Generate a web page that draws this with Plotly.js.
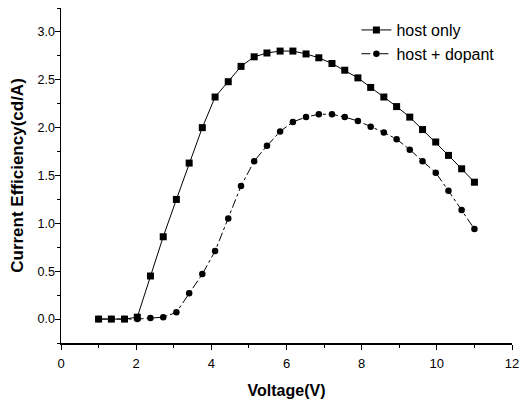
<!DOCTYPE html>
<html>
<head>
<meta charset="utf-8">
<script src="https://cdn.plot.ly/plotly-3.0.1.min.js"></script>
<style>html,body{margin:0;padding:0;background:#fff;}#chart{width:521px;height:403px;}</style>
</head>
<body>
<div id="chart"></div>
<script>
var voltage = [1.0, 1.34, 1.69, 2.03, 2.38, 2.72, 3.07, 3.41, 3.76, 4.10, 4.45, 4.79, 5.14, 5.48, 5.83, 6.17, 6.52, 6.86, 7.21, 7.55, 7.90, 8.24, 8.59, 8.93, 9.28, 9.62, 9.97, 10.31, 10.66, 11.0];
var hostOnly = [0, 0, 0, 0.02, 0.45, 0.86, 1.25, 1.63, 2.00, 2.32, 2.48, 2.64, 2.74, 2.78, 2.80, 2.80, 2.77, 2.73, 2.67, 2.60, 2.52, 2.42, 2.32, 2.22, 2.11, 1.98, 1.85, 1.71, 1.57, 1.43];
var hostDopant = [0, 0, 0, 0, 0.01, 0.02, 0.07, 0.27, 0.47, 0.71, 1.05, 1.39, 1.65, 1.81, 1.96, 2.06, 2.11, 2.14, 2.14, 2.11, 2.07, 2.01, 1.95, 1.88, 1.77, 1.65, 1.53, 1.34, 1.14, 0.94];
var seriesNames = ["host only", "host + dopant"];
var xTicks = [0, 2, 4, 6, 8, 10, 12];
var yTicks = [0.0, 0.5, 1.0, 1.5, 2.0, 2.5, 3.0];

var traces = [
  {x: voltage, y: hostOnly, name: seriesNames[0], type: 'scatter', mode: 'lines+markers',
   line: {color: '#000', width: 1}, marker: {symbol: 'square', size: 7, color: '#000'}},
  {x: voltage, y: hostDopant, name: seriesNames[1], type: 'scatter', mode: 'lines+markers',
   line: {color: '#000', width: 1, dash: 'dashdot'}, marker: {symbol: 'circle', size: 6.5, color: '#000'}}
];

var layout = {
  width: 521, height: 403,
  margin: {l: 61, r: 9, t: 8, b: 60},
  paper_bgcolor: '#fff', plot_bgcolor: '#fff',
  font: {family: 'Liberation Sans, Arial, sans-serif', color: '#000', size: 12},
  showlegend: true,
  legend: {x: 0.655, y: 0.985, xanchor: 'left', yanchor: 'top', bgcolor: 'rgba(0,0,0,0)',
           font: {size: 16, family: 'Liberation Sans, Arial, sans-serif', color: '#000'}, tracegroupgap: 0,
           itemwidth: 30},
  xaxis: {
    range: [0, 12], tickvals: xTicks, ticktext: xTicks.map(String),
    showgrid: false, zeroline: false, showline: true, linecolor: '#000', linewidth: 1.5,
    ticks: 'outside', ticklen: 5, tickwidth: 1, tickcolor: '#000',
    minor: {dtick: 1, ticks: 'outside', ticklen: 3, tickcolor: '#000', showgrid: false},
    tickfont: {size: 13}, ticklabelstandoff: 3,
    title: {text: '<b>Voltage(V)</b>', font: {size: 16}, standoff: 14}
  },
  yaxis: {
    range: [-0.25, 3.25], tickvals: yTicks, ticktext: yTicks.map(function(v){return v.toFixed(1);}),
    showgrid: false, zeroline: false, showline: true, linecolor: '#000', linewidth: 1.5,
    ticks: 'outside', ticklen: 5, tickwidth: 1, tickcolor: '#000',
    minor: {dtick: 0.25, ticks: 'outside', ticklen: 3, tickcolor: '#000', showgrid: false},
    tickfont: {size: 12.5}, ticklabelstandoff: -3,
    title: {text: '<b>Current Efficiency(cd/A)</b>', font: {size: 17}, standoff: 9}
  }
};

Plotly.newPlot('chart', traces, layout, {displayModeBar: false, staticPlot: true});
</script>
</body>
</html>
